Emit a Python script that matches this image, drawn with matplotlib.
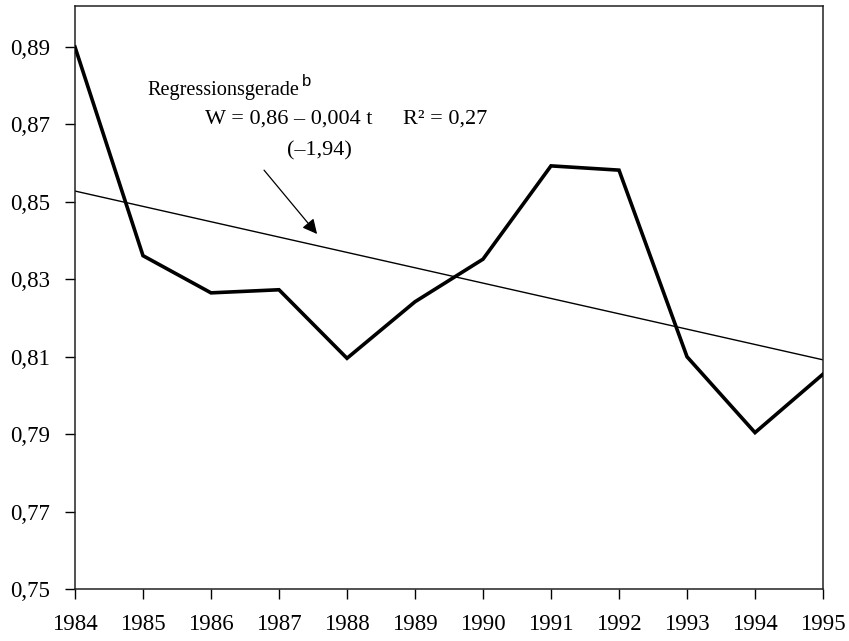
import matplotlib
matplotlib.use("Agg")
import matplotlib.pyplot as plt
import numpy as np

years = [1984, 1985, 1986, 1987, 1988, 1989, 1990, 1991, 1992, 1993, 1994, 1995]
values = [0.890, 0.8361, 0.8265, 0.8273, 0.8096, 0.8242, 0.8352, 0.8593, 0.8582, 0.8100, 0.7904, 0.8055]
reg_start = 0.8528
reg_end = 0.8092
yticks = [0.75, 0.77, 0.79, 0.81, 0.83, 0.85, 0.87, 0.89]
ytick_labels = ["0,75", "0,77", "0,79", "0,81", "0,83", "0,85", "0,87", "0,89"]

plt.rcParams['font.family'] = ['Liberation Serif', 'DejaVu Serif']

fig = plt.figure(figsize=(8.49, 6.41), dpi=100)
ax = fig.add_axes([75/849, 52/641, 748/849, 583/641])

ax.plot(years, values, color='black', lw=2.6, solid_joinstyle='miter', zorder=3)
ax.plot([years[0], years[-1]], [reg_start, reg_end], color='black', lw=1.0, zorder=2)

ax.set_xlim(1984, 1995)
ax.set_ylim(0.75, 0.9006)
ax.set_xticks(years)
ax.set_xticklabels([str(y) for y in years])
ax.set_yticks(yticks)
ax.set_yticklabels(ytick_labels)
ax.tick_params(axis='both', direction='out', length=7, width=1.0, labelsize=16.5, pad=11)
for s in ax.spines.values():
    s.set_linewidth(1.1)
    s.set_color('#222222')

fs = 16
ax.text(1985.06, 0.8787, "Regressionsgerade", fontsize=14.6, ha='left', va='center')
ax.text(1987.33, 0.8812, "b", fontsize=12, ha='left', va='center', family=['Liberation Sans', 'DejaVu Sans'])
ax.text(1985.91, 0.8714, "W = 0,86 \u2013 0,004 t", fontsize=fs, ha='left', va='center')
ax.text(1988.82, 0.8714, "R\u00b2 = 0,27", fontsize=fs, ha='left', va='center')
ax.text(1987.60, 0.8631, "(\u20131,94)", fontsize=fs, ha='center', va='center')

ax.annotate("", xy=(1987.56, 0.8417), xytext=(1986.78, 0.8582),
            arrowprops=dict(arrowstyle='-|>', color='black', lw=0.9, mutation_scale=22, shrinkA=0, shrinkB=0))

fig.savefig("out.png", dpi=100)
